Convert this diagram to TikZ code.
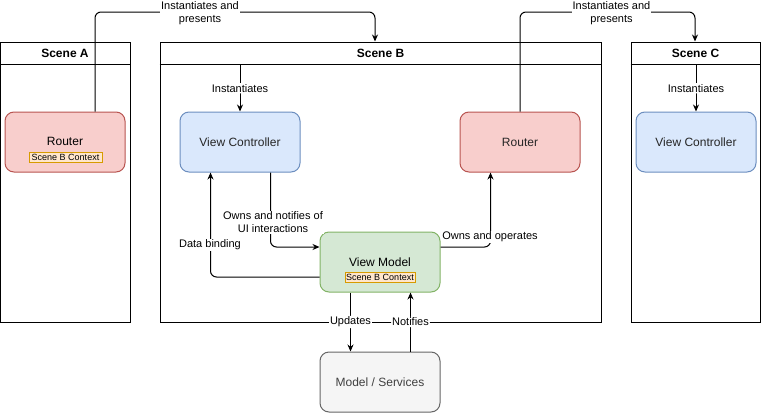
\documentclass[tikz,border=0pt]{standalone}
\usepackage{fontspec}
\setmainfont{Liberation Sans}
\usetikzlibrary{arrows.meta}
\definecolor{redfill}{HTML}{F8CECC}
\definecolor{reddraw}{HTML}{B85450}
\definecolor{bluefill}{HTML}{DAE8FC}
\definecolor{bluedraw}{HTML}{6C8EBF}
\definecolor{greenfill}{HTML}{D5E8D4}
\definecolor{greendraw}{HTML}{82B366}
\definecolor{grayfill}{HTML}{F5F5F5}
\definecolor{graydraw}{HTML}{666666}
\definecolor{ctxfill}{HTML}{FFE6CC}
\definecolor{ctxdraw}{HTML}{D79B00}
\begin{document}
\begin{tikzpicture}[x=1pt,y=-1pt,line width=1pt,
  scene/.style={draw=black,minimum width=130pt,minimum height=280pt,inner sep=0pt},
  title/.style={font=\fontsize{12}{14}\selectfont\bfseries},
  box/.style={rounded corners=9pt,minimum width=120pt,minimum height=60pt,inner sep=0pt,font=\fontsize{12}{14}\selectfont,text=black!85},
  redbox/.style={box,fill=redfill,draw=reddraw},
  bluebox/.style={box,fill=bluefill,draw=bluedraw},
  greenbox/.style={box,fill=greenfill,draw=greendraw},
  graybox/.style={box,fill=grayfill,draw=graydraw,text=black!75},
  ctx/.style={fill=ctxfill,draw=ctxdraw,inner sep=0.5pt,minimum height=10pt,font=\fontsize{9}{10}\selectfont},
  lbl/.style={fill=white,inner sep=1pt,font=\fontsize{11}{13}\selectfont,align=center},
  arr/.style={-{Stealth[length=7pt,width=6pt]},rounded corners=6pt}]
\useasboundingbox (0,0) rectangle (761,413);
% scenes
\node[scene] (sA) at (65,182) {};
\node[scene,minimum width=441pt] (sB) at (380.5,182) {};
\node[scene,minimum width=129pt] (sC) at (695.5,182) {};
\draw (sA.north west) ++(0,23) coordinate (hA) -- (hA -| sA.east);
\draw (sB.north west) ++(0,23) coordinate (hB) -- (hB -| sB.east);
\draw (sC.north west) ++(0,23) coordinate (hC) -- (hC -| sC.east);
\node[title] (tA) at (65,53.5) {Scene A};
\node[title] (tB) at (380.5,53.5) {Scene B};
\node[title] (tC) at (695.5,53.5) {Scene C};
% boxes
\node[redbox] (rA) at (65,142) {};
\node[font=\fontsize{12}{14}\selectfont] (rAt) at (65,141) {Router};
\node[ctx,minimum width=73pt] (cA) at (65.5,157) {Scene B Context};
\node[bluebox] (vcB) at (240,142) {View Controller};
\node[redbox] (rB) at (520,142) {Router};
\node[bluebox] (vcC) at (696,142) {View Controller};
\node[greenbox] (vm) at (380,262) {};
\node[font=\fontsize{12}{14}\selectfont] (vmt) at (380,262) {View Model};
\node[ctx,minimum width=70pt] (cB) at (380,277) {Scene B Context};
\node[graybox] (ms) at (380,382) {Model / Services};
% top connectors
\draw[arr] ([xshift=30pt]rA.north) |- (200,12) -| ([xshift=-5.5pt]sB.north);
\node[lbl] (l1) at (200,13) {Instantiates and\\presents};
\draw[arr] (rB.north) |- (611,12) -| ([xshift=-0.5pt]sC.north);
\node[lbl] (l2) at (611.5,13) {Instantiates and\\presents};
% instantiates
\coordinate (iB) at (240,65);
\draw[arr] (iB) -- node[lbl] {Instantiates} (vcB.north);
\coordinate (iC) at (696,65);
\draw[arr] (iC) -- node[lbl] {Instantiates} (vcC.north);
% inner scene B
\draw[arr] ([xshift=30.5pt]vcB.south) |- ([yshift=15pt]vm.west);
\node[lbl] (l3) at (273,222.5) {Owns and notifies of\\UI interactions};
\draw[arr] ([yshift=-15pt]vm.west) -| ([xshift=-29.5pt]vcB.south);
\node[lbl] (l4) at (210,245) {Data binding};
\draw[arr] ([yshift=15pt]vm.east) -| ([xshift=-29.5pt]rB.south);
\node[lbl] (l5) at (490,237) {Owns and operates};
\draw[arr] ([xshift=-29.5pt]vm.south) -- ([xshift=-29.5pt]ms.north) node[lbl,pos=0.5] {Updates};
\draw[arr] ([xshift=30.5pt]ms.north) -- ([xshift=30.5pt]vm.south) node[lbl,pos=0.5] {Notifies};
\end{tikzpicture}
\end{document}
